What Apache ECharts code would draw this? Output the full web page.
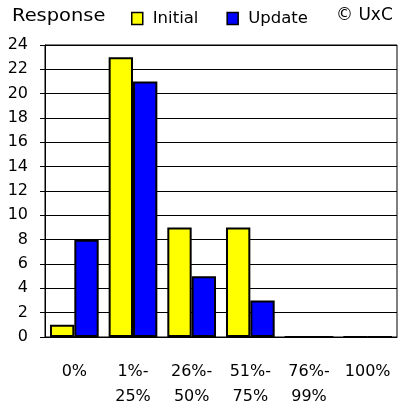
<!DOCTYPE html>
<html>
<head>
<meta charset="utf-8">
<script src="https://cdn.jsdelivr.net/npm/echarts@6/dist/echarts.min.js"></script>
<style>
  html, body { margin: 0; padding: 0; background: #fff; }
  #chart { width: 401px; height: 412px; }
</style>
</head>
<body>
<div id="chart"></div>
<script>
  var categories = ['0%', '1%-\n25%', '26%-\n50%', '51%-\n75%', '76%-\n99%', '100%'];
  var initialValues = [1, 23, 9, 9, 0, 0];
  var updateValues = [8, 21, 5, 3, 0, 0];

  var chartDom = document.getElementById('chart');
  var myChart = echarts.init(chartDom);
  var font = 'DejaVu Sans';

  var option = {
    animation: false,
    textStyle: { fontFamily: font },
    graphic: [
      {
        type: 'text', left: 12, top: 7, scaleX: 1.08,
        style: { text: 'Response', font: '18px ' + font, fill: '#000' }
      },
      {
        type: 'text', left: 336, top: 7,
        style: { text: '© UxC', font: '17px ' + font, fill: '#000' }
      }
    ],
    legend: {
      top: 10,
      left: 131,
      padding: 0,
      itemWidth: 11,
      itemHeight: 12,
      itemGap: 28,
      icon: 'rect',
      itemStyle: { borderColor: '#000', borderWidth: 1.5 },
      textStyle: { fontSize: 16.5, color: '#000', fontFamily: font, padding: [0, 0, 0, 5] },
      data: ['Initial', 'Update']
    },
    grid: {
      left: 45,
      right: 4,
      top: 45,
      bottom: 75,
      show: true,
      borderColor: '#000',
      borderWidth: 1
    },
    xAxis: {
      type: 'category',
      data: categories,
      axisLine: { lineStyle: { color: '#000' } },
      axisTick: { length: 6, lineStyle: { color: '#000' } },
      axisLabel: {
        color: '#000', fontSize: 16, fontFamily: font,
        margin: 22, lineHeight: 25, interval: 0
      }
    },
    yAxis: {
      type: 'value',
      min: 0,
      max: 24,
      interval: 2,
      axisLine: { show: true, lineStyle: { color: '#000' } },
      axisTick: { show: true, length: 5, lineStyle: { color: '#000' } },
      axisLabel: { color: '#000', fontSize: 16, fontFamily: font, margin: 17 },
      splitLine: { lineStyle: { color: '#000', width: 1 } }
    },
    series: [
      {
        name: 'Initial',
        type: 'bar',
        data: initialValues,
        barGap: '0%',
        barCategoryGap: '17%',
        itemStyle: { color: '#ffff00', borderColor: '#000', borderWidth: 2 }
      },
      {
        name: 'Update',
        type: 'bar',
        data: updateValues,
        itemStyle: { color: '#0000ff', borderColor: '#000', borderWidth: 2 }
      }
    ]
  };

  option && myChart.setOption(option);
</script>
</body>
</html>
